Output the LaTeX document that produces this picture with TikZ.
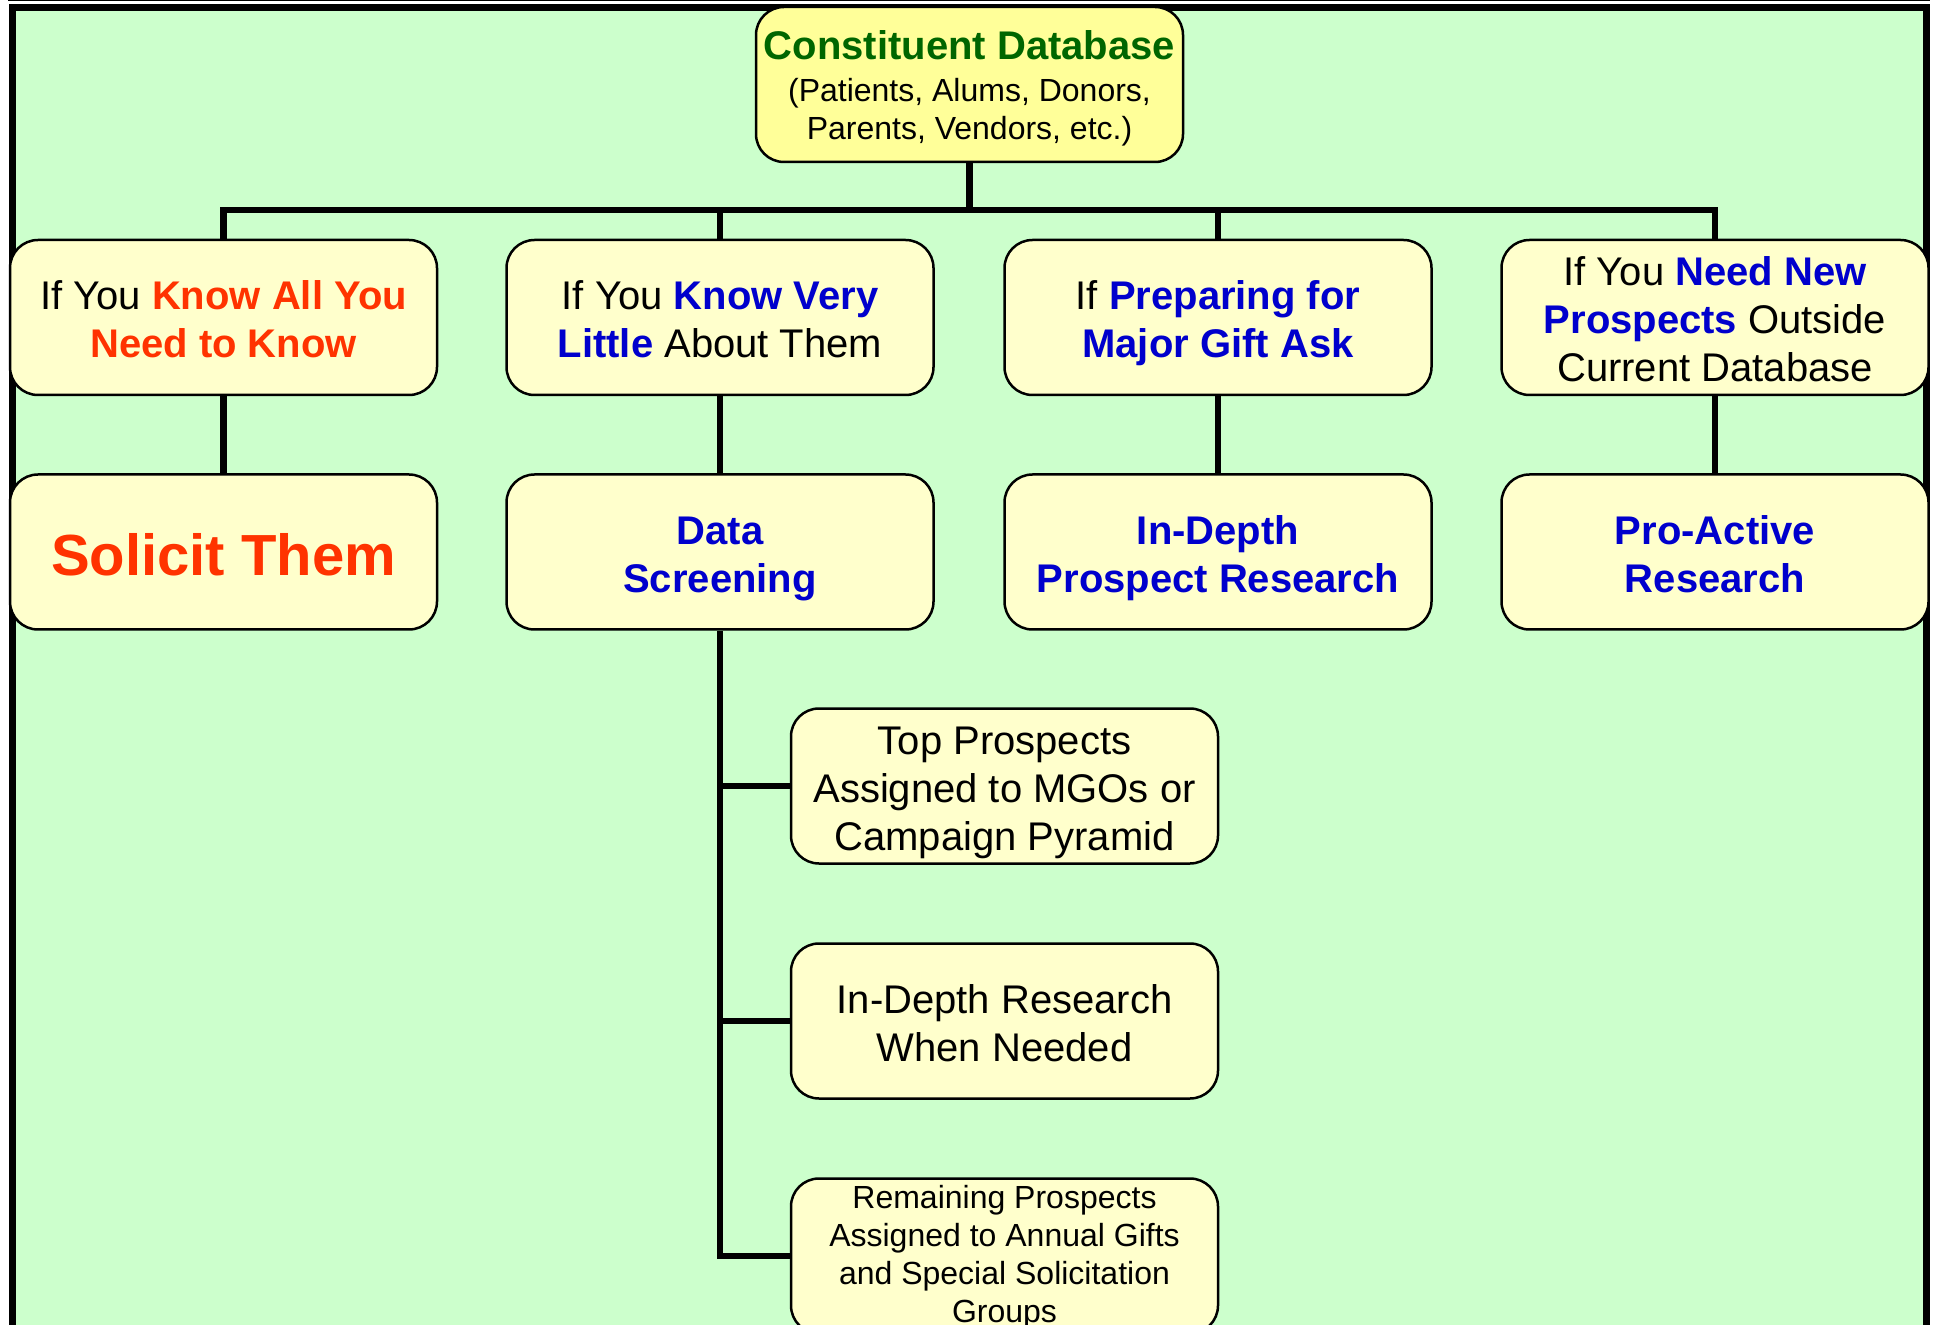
\documentclass[tikz,border=0pt]{standalone}
\usepackage{fontspec}
\setmainfont{Liberation Sans}
\definecolor{bggreen}{HTML}{CCFFCC}
\definecolor{boxfill}{HTML}{FFFFCC}
\definecolor{topfill}{HTML}{FFFF99}
\definecolor{ttlgreen}{HTML}{006600}
\definecolor{hired}{HTML}{FF3300}
\definecolor{hiblue}{HTML}{0000CC}
\tikzset{
  boxnode/.style={draw=black, line width=1.25pt, fill=boxfill, rounded corners=14pt,
    minimum width=213.5pt, minimum height=77.5pt, inner sep=0pt, align=center,
    font=\fontsize{20pt}{24pt}\selectfont},
  topnode/.style={boxnode, fill=topfill, font=\fontsize{16pt}{19.1pt}\selectfont},
  conn/.style={line width=3.25pt, draw=black},
}
\newcommand{\rd}[1]{\textcolor{hired}{\bfseries #1}}
\newcommand{\bl}[1]{\textcolor{hiblue}{\bfseries #1}}
\newcommand{\ts}{\rule{0pt}{21pt}}
\newcommand{\bs}{\rule[-4.5pt]{0pt}{4.5pt}}
\begin{document}
\begin{tikzpicture}[x=0.5pt, y=-0.5pt]
\useasboundingbox (0,0) rectangle (1937,1325);
\clip (0,0) rectangle (1937,1325);
% background and frame
\fill[bggreen] (15,11) rectangle (1923,1330);
\draw[line width=3.5pt] (12,1330) -- (12,7.5) -- (1926.5,7.5) -- (1926.5,1330);
\draw[line width=0.75pt] (8,0.75) -- (1930,0.75);

% top node
\node[topnode] (top) at (969.5,84.5) {{\fontsize{20pt}{24pt}\selectfont\bfseries\color{ttlgreen}\rule{0pt}{18.7pt}Constituent Database}\\[2.1pt]
  (Patients, Alums, Donors,\\ Parents, Vendors, etc.)\rule[-3.5pt]{0pt}{3.5pt}};

% row 1
\node[boxnode] (r1a) at (223.5,317.5) {\ts If You \rd{Know All You}\\ \rd{Need to Know}\bs};
\node[boxnode] (r1b) at (720,317.5) {\ts If You \bl{Know Very}\\ \bl{Little} About Them\bs};
\node[boxnode] (r1c) at (1218,317.5) {\ts If \bl{Preparing for}\\ \bl{Major Gift Ask}\bs};
\node[boxnode] (r1d) at (1715,317.5) {\ts If You \bl{Need New}\\ \bl{Prospects} Outside\\ Current Database\bs};

% row 2
\node[boxnode, font=\bfseries\fontsize{29pt}{34pt}\selectfont] (r2a) at (223.5,552) {\rule[-6.4pt]{0pt}{36.15pt}\textcolor{hired}{Solicit Them}};
\node[boxnode] (r2b) at (720,552) {\ts\bl{Data}\\ \bl{Screening}\bs};
\node[boxnode] (r2c) at (1218,552) {\ts\bl{In-Depth}\\ \bl{Prospect Research}\bs};
\node[boxnode] (r2d) at (1715,552) {\ts\bl{Pro-Active}\\ \bl{Research}\bs};

% sub boxes
\node[boxnode] (s1) at (1004.5,786) {\ts Top Prospects\\ Assigned to MGOs or\\ Campaign Pyramid\bs};
\node[boxnode] (s2) at (1004.5,1021) {\ts In-Depth Research\\ When Needed\bs};
\node[boxnode, font=\fontsize{16pt}{19pt}\selectfont] (s3) at (1004.5,1256) {\rule{0pt}{12.5pt}Remaining Prospects\\ Assigned to Annual Gifts\\ and Special Solicitation\\ Groups\rule[-3.4pt]{0pt}{3.4pt}};

% connectors
\coordinate (j) at (969.5,210);
\draw[conn] (top.south) -- (j);
\draw[conn] (r1a.north) -- (r1a.north |- j) -- (r1d.north |- j) -- (r1d.north);
\draw[conn] (r1b.north) -- (r1b.north |- j);
\draw[conn] (r1c.north) -- (r1c.north |- j);
\draw[conn] (r1a.south) -- (r2a.north);
\draw[conn] (r1b.south) -- (r2b.north);
\draw[conn] (r1c.south) -- (r2c.north);
\draw[conn] (r1d.south) -- (r2d.north);
\draw[conn] (r2b.south) |- (s3.west);
\draw[conn] (s1.west) -- (s1.west -| r2b.south);
\draw[conn] (s2.west) -- (s2.west -| r2b.south);
\end{tikzpicture}
\end{document}
